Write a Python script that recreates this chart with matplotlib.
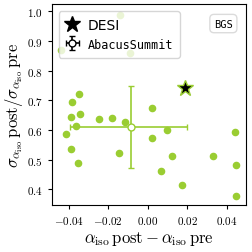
import numpy as np
import matplotlib
matplotlib.use("Agg")
import matplotlib.pyplot as plt
from matplotlib.lines import Line2D

plt.rcParams["mathtext.fontset"] = "cm"

# AbacusSummit mocks: shift in alpha_iso and ratio of errors
d_alpha = [-0.0438, -0.0142, -0.0089, -0.0385, -0.0346, -0.0390, -0.0340,
           -0.0365, -0.0412, -0.0390, -0.0351, -0.0244, -0.0182, -0.0114,
           -0.0144, 0.0020, 0.0022, 0.0097, 0.0126, 0.0067, 0.0172, 0.0330,
           0.0445, 0.0447, 0.0447]
sig_ratio = [0.870, 0.988, 0.858, 0.695, 0.722, 0.642, 0.655, 0.614, 0.587,
             0.535, 0.490, 0.637, 0.641, 0.626, 0.521, 0.674, 0.574, 0.600,
             0.511, 0.462, 0.413, 0.513, 0.594, 0.480, 0.377]

mean_x, mean_y = -0.0085, 0.611
xerr_lo, xerr_hi = 0.0308, 0.0286
yerr_lo, yerr_hi = 0.140, 0.137

desi_x, desi_y = 0.0191, 0.741

green = "yellowgreen"

fig = plt.figure(figsize=(2.53, 2.53), dpi=100)
ax = fig.add_axes([0.204, 0.186, 0.768, 0.794])

ax.scatter(d_alpha, sig_ratio, s=20, color=green, zorder=2)
ax.errorbar(mean_x, mean_y, xerr=[[xerr_lo], [xerr_hi]],
            yerr=[[yerr_lo], [yerr_hi]], fmt="o", color=green, mfc="white",
            mec=green, ms=5, capsize=2, lw=1.2, zorder=3)
ax.plot(desi_x, desi_y, marker="*", ls="none", color="black", mec=green,
        ms=12, zorder=4)

# legend proxies
desi_handle = Line2D([], [], marker="*", ls="none", color="black", ms=12)
abacus_handle = ax.errorbar([np.nan], [np.nan], xerr=[1], yerr=[1], fmt="o",
                            color="black", mfc="white", mec="black", ms=5,
                            capsize=2, lw=1.2)

ax.set_xlim(-0.0486, 0.0498)
ax.set_ylim(0.347, 1.024)
ax.set_xticks([-0.04, -0.02, 0.0, 0.02, 0.04])
ax.set_xticklabels([r"$-0.04$", r"$-0.02$", r"$0.00$", r"$0.02$", r"$0.04$"])
ax.set_yticks([0.4, 0.5, 0.6, 0.7, 0.8, 0.9, 1.0])
ax.set_yticklabels([rf"${v:.1f}$" for v in [0.4, 0.5, 0.6, 0.7, 0.8, 0.9, 1.0]])
ax.tick_params(labelsize=8, length=3)

ax.set_xlabel(r"$\alpha_{\rm iso}\,{\rm post} - \alpha_{\rm iso}\,{\rm pre}$",
              fontsize=12, labelpad=2)
ax.set_ylabel(r"$\sigma_{\alpha_{\rm iso}}\,{\rm post}/\sigma_{\alpha_{\rm iso}}\,{\rm pre}$",
              fontsize=12, labelpad=1)

leg = ax.legend([desi_handle, abacus_handle], ["DESI", "AbacusSummit"],
                loc="upper left", fontsize=10, handlelength=1.0,
                borderpad=0.5, labelspacing=0.45, handletextpad=0.6)
leg.get_texts()[1].set_family("monospace")
leg.get_texts()[1].set_fontsize(8.5)

ax.text(0.884, 0.903, "BGS", transform=ax.transAxes, ha="center",
        va="center", family="monospace", fontsize=7.5,
        bbox=dict(boxstyle="round,pad=0.4", fc="white", ec="lightgray",
                  alpha=0.8))

fig.savefig("out.png", dpi=100)
